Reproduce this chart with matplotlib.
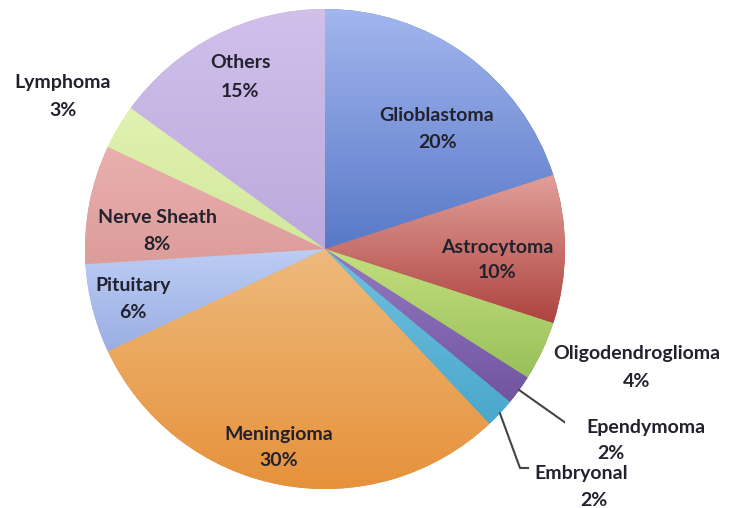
import numpy as np
import matplotlib
matplotlib.use('Agg')
import matplotlib.pyplot as plt
from matplotlib.colors import LinearSegmentedColormap

plt.rcParams['font.family'] = ['Lato', 'DejaVu Sans']

tumors = ['Glioblastoma', 'Astrocytoma', 'Oligodendroglioma', 'Ependymoma', 'Embryonal',
          'Meningioma', 'Pituitary', 'Nerve Sheath', 'Lymphoma', 'Others']
percent = [20, 10, 4, 2, 2, 30, 6, 8, 3, 15]

# light (top) / dark (bottom) shade of each slice
shades = [('#a3b6ee', '#5879c8'), ('#e2a09b', '#ae433f'), ('#c4df7e', '#98c05a'),
          ('#9479c2', '#7054a0'), ('#70c0de', '#4aa8cc'), ('#eeba7c', '#e6913a'),
          ('#bccdf5', '#9aaee2'), ('#eab0ae', '#dc9c9a'), ('#e0f2b0', '#d2e89c'),
          ('#d0c0ea', '#bca9dd')]

# where the name line and the percent line of each label sit
name_xy = [(0.467, 0.558), (0.717, 0.008), (1.30, -0.4375), (1.3375, -0.742), (1.067, -0.9375),
           (-0.192, -0.771), (-0.80, -0.154), (-0.70, 0.133), (-1.092, 0.692), (-0.354, 0.775)]
pct_xy = [(0.467, 0.442), (0.717, -0.096), (1.30, -0.554), (1.192, -0.854), (1.121, -1.05),
          (-0.192, -0.883), (-0.80, -0.2625), (-0.70, 0.017), (-1.092, 0.579), (-0.354, 0.658)]
# leader line elbows for the two thin slices
leaders = {'Ependymoma': [(1.05, -0.758), (1.0875, -0.758)],
           'Embryonal': [(0.8125, -0.9125), (0.846, -0.9125)]}

fig = plt.figure(figsize=(7.29, 5.08), dpi=100)
ax = fig.add_axes([85/729, 19/508, 480/729, 480/508])

wedges, _ = ax.pie(percent, startangle=90, counterclock=False, radius=1,
                   colors=[s[1] for s in shades], wedgeprops=dict(linewidth=0))

grad = np.linspace(0, 1, 256).reshape(-1, 1)
for w, (light, dark) in zip(wedges, shades):
    v = w.get_path().vertices
    x0, x1 = v[:, 0].min(), v[:, 0].max()
    y0, y1 = v[:, 1].min(), v[:, 1].max()
    cmap = LinearSegmentedColormap.from_list('g', [dark, light])
    im = ax.imshow(grad, cmap=cmap, extent=(x0, x1, y0, y1), origin='lower',
                   aspect='auto', interpolation='bilinear', zorder=1.5)
    im.set_clip_path(w)

txt = dict(ha='center', va='center', fontsize=14, fontweight='bold', color='#22222e')
for i, name in enumerate(tumors):
    ax.text(*name_xy[i], name, **txt)
    ax.text(*pct_xy[i], '%d%%' % percent[i], **txt)

cum = np.cumsum([0] + percent)
for name, pts in leaders.items():
    i = tumors.index(name)
    mid = np.deg2rad(90 - 3.6 * (cum[i] + percent[i] / 2))
    xs = [np.cos(mid)] + [p[0] for p in pts]
    ys = [np.sin(mid)] + [p[1] for p in pts]
    ax.plot(xs, ys, color='#444444', lw=1.5, zorder=3)

ax.set_xlim(-1, 1)
ax.set_ylim(-1, 1)
ax.set_aspect('auto')
ax.axis('off')

fig.savefig('out.png', dpi=100)
